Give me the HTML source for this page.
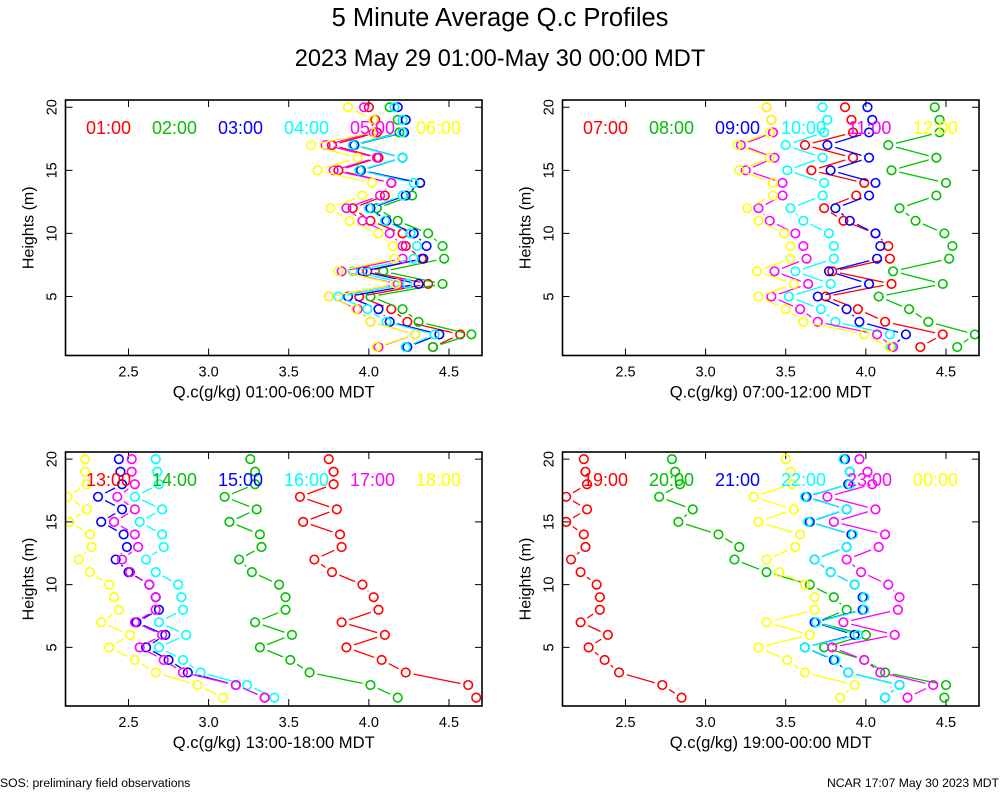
<!DOCTYPE html>
<html><head><meta charset="utf-8"><style>
body{margin:0;background:#fff;}
svg{display:block;font-family:"Liberation Sans",sans-serif;}
</style></head><body>
<svg id="chart" width="1000" height="800" xmlns="http://www.w3.org/2000/svg">
<rect width="1000" height="800" fill="#fff"/>
<text x="500" y="26" font-size="25.5" text-anchor="middle">5 Minute Average Q.c Profiles</text>
<text x="500" y="66" font-size="23.6" text-anchor="middle">2023 May 29 01:00-May 30 00:00 MDT</text>
<text x="0" y="787" font-size="12.2">SOS: preliminary field observations</text>
<text x="999" y="787" font-size="12.2" text-anchor="end">NCAR 17:07 May 30 2023 MDT</text>
</svg>
<script>
const heights = [20,19,18,17,16,15,14,13,12,11,10,9,8,7,6,5,4,3,2,1];
const xTicks = [2.5,3.0,3.5,4.0,4.5];
const xTickLabels = ["2.5","3.0","3.5","4.0","4.5"];
const yTicks = [5,10,15,20];
const colors = ["#ff0000","#00c000","#0000ff","#00ffff","#ff00ff","#ffff00"];
const p1Labels = ["01:00","02:00","03:00","04:00","05:00","06:00"];
const p2Labels = ["07:00","08:00","09:00","10:00","11:00","12:00"];
const p3Labels = ["13:00","14:00","15:00","16:00","17:00","18:00"];
const p4Labels = ["19:00","20:00","21:00","22:00","23:00","00:00"];
const p1Red = [4.00,4.04,4.05,3.77,4.06,3.81,4.14,4.10,3.90,4.01,4.21,4.23,4.33,3.99,4.37,3.94,4.14,4.24,4.57,4.40];
const p1Green = [4.13,4.18,4.19,3.90,4.21,3.95,4.32,4.27,4.05,4.18,4.37,4.46,4.47,4.09,4.46,4.01,4.21,4.31,4.64,4.40];
const p1Blue = [4.18,4.23,4.22,3.91,4.21,3.95,4.32,4.23,4.01,4.11,4.28,4.36,4.34,3.96,4.31,3.87,4.06,4.13,4.44,4.24];
const p1Cyan = [4.16,4.21,4.21,3.90,4.21,3.94,4.28,4.21,4.00,4.10,4.26,4.30,4.28,3.90,4.24,3.81,3.99,4.11,4.41,4.23];
const p1Magenta = [3.97,4.03,4.03,3.73,4.05,3.78,4.14,4.07,3.86,3.96,4.13,4.21,4.21,3.83,4.18,3.75,3.93,4.01,4.29,4.06];
const p1Yellow = [3.87,4.03,4.02,3.64,3.93,3.68,4.02,3.96,3.76,3.88,4.06,4.15,4.16,3.81,4.17,3.75,3.92,4.01,4.29,4.05];
const p2Red = [3.87,3.91,3.92,3.62,3.92,3.66,3.99,3.94,3.74,3.86,4.06,4.14,4.15,3.79,4.16,3.75,3.95,4.12,4.48,4.34];
const p2Green = [4.43,4.46,4.46,4.14,4.44,4.16,4.50,4.44,4.21,4.31,4.49,4.54,4.52,4.17,4.48,4.08,4.27,4.39,4.68,4.57];
const p2Blue = [4.01,4.04,4.02,3.76,4.02,3.78,4.06,4.02,3.81,3.90,4.06,4.09,4.07,3.77,4.02,3.70,3.88,3.96,4.25,4.16];
const p2Cyan = [3.73,3.76,3.74,3.50,3.73,3.51,3.74,3.73,3.53,3.61,3.77,3.80,3.80,3.56,3.78,3.52,3.72,3.81,4.15,4.16];
const p2Magenta = [3.38,3.41,3.42,3.22,3.43,3.25,3.48,3.48,3.33,3.40,3.56,3.61,3.63,3.43,3.64,3.41,3.59,3.70,4.07,4.17];
const p2Yellow = [3.38,3.41,3.40,3.20,3.40,3.21,3.42,3.42,3.26,3.33,3.49,3.53,3.53,3.32,3.55,3.33,3.50,3.61,3.99,4.15];
const p3Red = [3.75,3.78,3.78,3.57,3.80,3.59,3.82,3.83,3.66,3.77,3.96,4.03,4.06,3.83,4.10,3.86,4.08,4.23,4.62,4.67];
const p3Green = [3.26,3.29,3.29,3.10,3.30,3.13,3.32,3.33,3.19,3.27,3.44,3.48,3.48,3.29,3.52,3.32,3.51,3.63,4.01,4.18];
const p3Blue = [2.44,2.45,2.46,2.31,2.46,2.33,2.47,2.49,2.42,2.50,2.63,2.67,2.69,2.55,2.73,2.61,2.75,2.87,3.17,3.35];
const p3Cyan = [2.67,2.68,2.69,2.54,2.71,2.57,2.71,2.72,2.61,2.67,2.81,2.83,2.84,2.69,2.86,2.69,2.84,2.95,3.24,3.41];
const p3Magenta = [2.52,2.52,2.54,2.43,2.54,2.41,2.54,2.56,2.46,2.51,2.63,2.67,2.67,2.54,2.71,2.57,2.72,2.84,3.17,3.35];
const p3Yellow = [2.23,2.23,2.24,2.12,2.24,2.13,2.26,2.27,2.19,2.26,2.38,2.41,2.44,2.33,2.51,2.38,2.54,2.67,2.93,3.09];
const p4Red = [2.24,2.25,2.26,2.13,2.26,2.13,2.24,2.25,2.16,2.22,2.32,2.34,2.34,2.22,2.39,2.27,2.37,2.46,2.73,2.85];
const p4Green = [2.79,2.81,2.84,2.71,2.92,2.83,3.08,3.21,3.18,3.38,3.65,3.80,3.88,3.69,4.00,3.74,3.99,4.12,4.50,4.49];
const p4Blue = [3.87,3.90,3.89,3.63,3.88,3.65,3.91,3.88,3.68,3.78,3.93,3.98,3.98,3.68,3.93,3.62,3.80,3.89,4.21,4.12];
const p4Cyan = [3.86,3.90,3.90,3.62,3.88,3.64,3.92,3.88,3.68,3.78,3.93,3.99,3.99,3.69,3.95,3.62,3.81,3.89,4.21,4.12];
const p4Magenta = [3.96,4.01,4.04,3.76,4.06,3.80,4.12,4.08,3.88,3.97,4.14,4.21,4.20,3.86,4.18,3.79,3.99,4.09,4.42,4.26];
const p4Yellow = [3.50,3.53,3.54,3.30,3.55,3.33,3.59,3.56,3.38,3.46,3.62,3.68,3.68,3.38,3.65,3.33,3.51,3.62,3.93,3.84];

const NS = "http://www.w3.org/2000/svg";
const svg = document.getElementById('chart');
function mk(tag, attrs, parent){
  const e = document.createElementNS(NS, tag);
  for (const k in attrs) e.setAttribute(k, attrs[k]);
  (parent||svg).appendChild(e);
  return e;
}
const XMIN = 2.107, XMAX = 4.706, YMIN = 0.33, YMAX = 20.57;
const panels = [
  {L:65.5,R:482,T:100,B:355.5, series:[p1Red,p1Green,p1Blue,p1Cyan,p1Magenta,p1Yellow], labels:p1Labels, xlab:"Q.c(g/kg) 01:00-06:00 MDT", name:"panel-0100-0600"},
  {L:562.5,R:979,T:100,B:355.5, series:[p2Red,p2Green,p2Blue,p2Cyan,p2Magenta,p2Yellow], labels:p2Labels, xlab:"Q.c(g/kg) 07:00-12:00 MDT", name:"panel-0700-1200"},
  {L:65.5,R:482,T:452,B:706, series:[p3Red,p3Green,p3Blue,p3Cyan,p3Magenta,p3Yellow], labels:p3Labels, xlab:"Q.c(g/kg) 13:00-18:00 MDT", name:"panel-1300-1800"},
  {L:562.5,R:979,T:452,B:706, series:[p4Red,p4Green,p4Blue,p4Cyan,p4Magenta,p4Yellow], labels:p4Labels, xlab:"Q.c(g/kg) 19:00-00:00 MDT", name:"panel-1900-0000"}
];
panels.forEach((p, pi) => {
  const g = mk('g', {});
  
  
  const sx = v => p.L + (v - XMIN) / (XMAX - XMIN) * (p.R - p.L);
  const sy = h => p.B - (h - YMIN) / (YMAX - YMIN) * (p.B - p.T);
  const clip = mk('clipPath', {id:'clip'+pi}, g);
  mk('rect', {x:p.L, y:p.T, width:p.R-p.L, height:p.B-p.T}, clip);
  xTicks.forEach((t, i) => {
    const x = sx(t);
    const tk = mk('path', {d:`M${x},${p.B}v-7M${x},${p.T}v7`, stroke:'#000', 'stroke-width':1}, g);
    
    
    const lb = mk('text', {x:x, y:p.B+21, 'font-size':14.5, 'text-anchor':'middle'}, g);
    
    
    lb.textContent = xTickLabels[i];
  });
  yTicks.forEach(t => {
    const y = sy(t);
    const tk = mk('path', {d:`M${p.L},${y}h7M${p.R},${y}h-7`, stroke:'#000', 'stroke-width':1}, g);
    
    
    const lb = mk('text', {x:p.L-9, y:y, 'font-size':14.5, 'text-anchor':'middle', transform:`rotate(-90 ${p.L-9} ${y})`}, g);
    
    
    lb.textContent = String(t);
  });
  const yl = mk('text', {x:p.L-32, y:(p.T+p.B)/2, 'font-size':16, 'text-anchor':'middle', transform:`rotate(-90 ${p.L-32} ${(p.T+p.B)/2})`}, g);
  
  
  yl.textContent = 'Heights (m)';
  const xl = mk('text', {x:(p.L+p.R)/2, y:p.B+42, 'font-size':16.6, 'text-anchor':'middle'}, g);
  
  
  xl.textContent = p.xlab;
  const sg = mk('g', {'clip-path':`url(#clip${pi})`}, g);
  p.series.forEach((vals, si) => {
    const col = colors[si];
    const ser = mk('g', {}, sg);
    
    
    let d = '';
    for (let i = 0; i < vals.length - 1; i++) {
      const x1 = sx(vals[i]), y1 = sy(heights[i]), x2 = sx(vals[i+1]), y2 = sy(heights[i+1]);
      const dx = x2-x1, dy = y2-y1, len = Math.hypot(dx,dy), gap = 8;
      if (len > 2*gap) {
        const ux = dx/len, uy = dy/len;
        d += `M${(x1+ux*gap).toFixed(1)},${(y1+uy*gap).toFixed(1)}L${(x2-ux*gap).toFixed(1)},${(y2-uy*gap).toFixed(1)}`;
      }
    }
    const ln = mk('path', {d:d, stroke:col, 'stroke-width':1.3, fill:'none'}, ser);
    
    
    vals.forEach((v, i) => {
      const c = mk('circle', {cx:sx(v), cy:sy(heights[i]), r:4.3, fill:'none', stroke:col, 'stroke-width':1.6}, ser);
      
      
    });
  });
  p.labels.forEach((lab, si) => {
    const t = mk('text', {x:p.L + 43 + si*66, y:p.T+34, 'font-size':18, 'text-anchor':'middle', fill:colors[si]}, g);
    
    
    t.textContent = lab;
  });
  const fr = mk('rect', {x:p.L, y:p.T, width:p.R-p.L, height:p.B-p.T, fill:'none', stroke:'#000', 'stroke-width':1.6}, g);
  
  
});
</script>
</body></html>
